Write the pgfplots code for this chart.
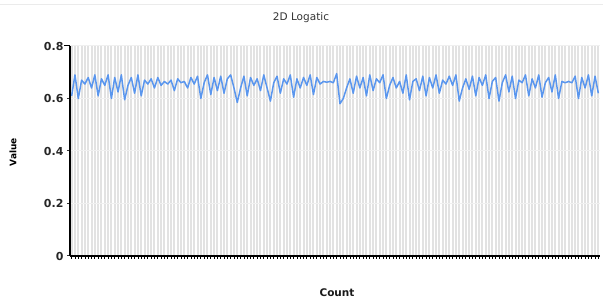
\documentclass[border=0pt]{standalone}
\usepackage{pgfplots}
\pgfplotsset{compat=1.18}
\usepackage{fontspec}
\setmainfont{DejaVu Sans}
\definecolor{lineblue}{HTML}{5A96EE}
\definecolor{gridgray}{HTML}{E2E2E2}
\begin{document}
\begin{tikzpicture}[x=1pt,y=1pt]
\path[use as bounding box] (0,0) rectangle (603,302);
\draw[black!8, line width=1pt] (0,297) -- (603,297);
\begin{axis}[
  at={(70pt,46pt)}, anchor=south west,
  scale only axis, width=530pt, height=210pt,
  xmin=-0.5, xmax=159.5, ymin=0, ymax=0.8,
  axis line style={draw=none},
  xtick={0,1,...,159}, xticklabels={},
  ytick={0,0.2,0.4,0.6,0.8},
  yticklabels={0,0.2,0.4,0.6,0.8},
  yticklabel style={font=\bfseries\fontsize{11}{13}\selectfont, text=black!85},
  /pgf/number format/assume math mode=true,
  xtick pos=bottom, ytick pos=left,
  tick align=outside,
  x tick style={black, line width=0.8pt},
  y tick style={black!80, line width=1pt},
  major tick length=3pt,
  xmajorgrids, ymajorgrids,
  x grid style={gridgray, line width=2pt},
  y grid style={black!6, line width=1pt},
  clip=false,
]
\addplot[lineblue, line width=1.5pt, line join=round, mark=none] coordinates {
(0,0.610)(1,0.690)(2,0.600)(3,0.670)(4,0.655)(5,0.680)(6,0.640)(7,0.690)(8,0.610)(9,0.675)
(10,0.650)(11,0.690)(12,0.600)(13,0.680)(14,0.625)(15,0.690)(16,0.595)(17,0.650)(18,0.680)(19,0.620)
(20,0.690)(21,0.610)(22,0.670)(23,0.655)(24,0.675)(25,0.640)(26,0.680)(27,0.650)(28,0.665)(29,0.655)
(30,0.670)(31,0.630)(32,0.675)(33,0.660)(34,0.665)(35,0.640)(36,0.680)(37,0.655)(38,0.685)(39,0.600)
(40,0.660)(41,0.690)(42,0.615)(43,0.680)(44,0.630)(45,0.685)(46,0.620)(47,0.675)(48,0.690)(49,0.640)
(50,0.585)(51,0.640)(52,0.685)(53,0.610)(54,0.680)(55,0.650)(56,0.675)(57,0.630)(58,0.690)(59,0.640)
(60,0.590)(61,0.660)(62,0.685)(63,0.620)(64,0.675)(65,0.655)(66,0.690)(67,0.605)(68,0.675)(69,0.640)
(70,0.680)(71,0.650)(72,0.690)(73,0.615)(74,0.680)(75,0.655)(76,0.665)(77,0.662)(78,0.665)(79,0.660)
(80,0.695)(81,0.580)(82,0.600)(83,0.640)(84,0.675)(85,0.620)(86,0.685)(87,0.640)(88,0.680)(89,0.610)
(90,0.690)(91,0.630)(92,0.675)(93,0.660)(94,0.690)(95,0.600)(96,0.650)(97,0.680)(98,0.640)(99,0.665)
(100,0.620)(101,0.690)(102,0.595)(103,0.665)(104,0.675)(105,0.630)(106,0.685)(107,0.610)(108,0.680)(109,0.640)
(110,0.690)(111,0.620)(112,0.670)(113,0.655)(114,0.685)(115,0.650)(116,0.690)(117,0.590)(118,0.640)(119,0.675)
(120,0.635)(121,0.685)(122,0.610)(123,0.680)(124,0.650)(125,0.690)(126,0.600)(127,0.665)(128,0.680)(129,0.590)
(130,0.660)(131,0.690)(132,0.625)(133,0.685)(134,0.600)(135,0.670)(136,0.660)(137,0.690)(138,0.610)(139,0.675)
(140,0.640)(141,0.690)(142,0.605)(143,0.660)(144,0.680)(145,0.625)(146,0.690)(147,0.600)(148,0.665)(149,0.660)
(150,0.665)(151,0.660)(152,0.685)(153,0.600)(154,0.680)(155,0.640)(156,0.690)(157,0.610)(158,0.685)(159,0.620)
};
\end{axis}
\draw[black, line width=1.2pt] (70,46) -- (70,256);
\draw[black, line width=1.6pt] (70,46) -- (600,46);
\draw[black, line width=1pt] (64,256) -- (70,256);
\node[font=\fontsize{10.5}{12}\selectfont, text=black!80] at (301,284) {2D Logatic};
\node[font=\bfseries\fontsize{9}{11}\selectfont, rotate=90] at (13,150) {Value};
\node[font=\bfseries\fontsize{10.5}{12}\selectfont, text=black!90] at (337,9) {Count};
\end{tikzpicture}
\end{document}
